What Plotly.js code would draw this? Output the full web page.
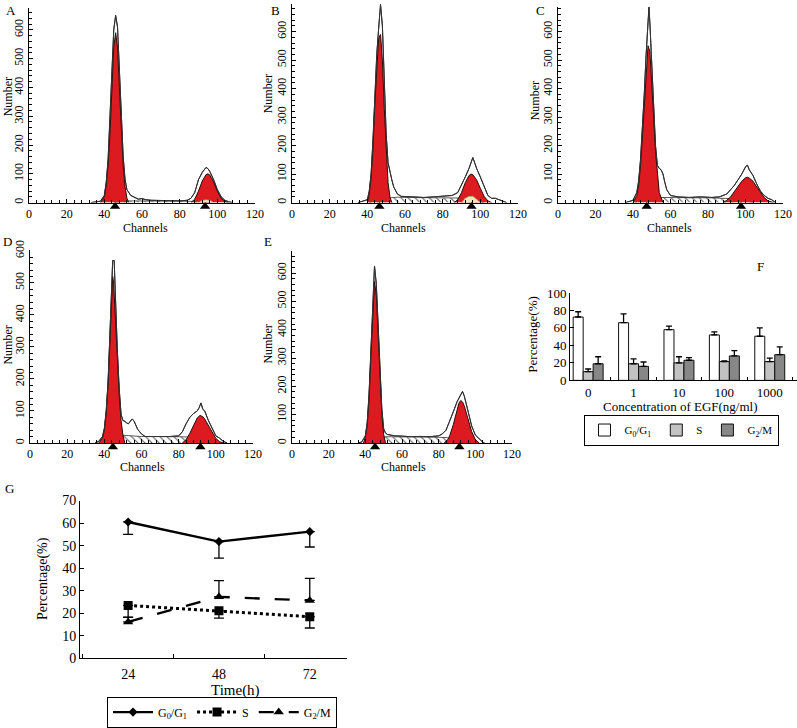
<!DOCTYPE html>
<html><head><meta charset="utf-8">
<script src="https://cdn.plot.ly/plotly-3.0.1.min.js"></script>
<style>html,body{margin:0;padding:0;background:#fff}#chart{width:797px;height:728px}</style>
</head><body><div id="chart"></div>
<script>
// ---------- Panel A (flow histogram) ----------
const rawA_x = [33,36,38,40,41,42,43,44,45,46,47,48,49,50,51,52,54,56,58,60,62,65,70,75,80,84,86,88,90,92,94,95,96,98,100,102,104,106,108];
const rawA_y = [0,3,5,25,70,150,280,450,600,650,610,470,300,160,80,45,25,18,12,14,10,8,7,6,6,8,15,35,80,105,122,118,108,80,45,20,8,3,0];
const g1A_x = [38,40,41,42,43,44,45,46,47,48,49,50,51,52,53];
const g1A_y = [0,20,60,130,240,390,540,590,540,400,250,130,55,15,0];
const g2A_x = [86,88,90,92,94,95,96,98,100,102,104,106];
const g2A_y = [0,12,40,75,97,100,96,72,40,15,4,0];
const sA_x = [46,50,55,60,70,80,88,92,96];
const sA_y = [0,5,6,6,6,6,6,4,0];
const yelA_x = [90,92,94,96,98];
const yelA_y = [0,8,10,8,0];
const triA = [45.7,93.5];
// ---------- Panel B ----------
const rawB_x = [35,37,40,41,42,43,44,45,46,47,48,49,50,51,52,53,54,56,58,62,66,70,75,80,85,88,90,92,94,95,96,97,98,100,102,104,106,108,110,112,114];
const rawB_y = [0,4,10,40,100,220,380,520,610,695,620,440,240,140,105,80,55,30,22,20,20,18,20,22,25,35,60,90,120,140,158,140,120,90,55,25,15,15,10,5,0];
const g1B_x = [40,41,42,43,44,45,46,47,48,49,50,51,52,53];
const g1B_y = [0,30,85,190,350,490,575,590,500,330,170,70,20,0];
const g2B_x = [86,88,90,92,94,95,96,98,100,102,104,106];
const g2B_y = [0,10,35,70,95,100,98,80,50,22,6,0];
const sB_x = [41,44,48,52,56,60,70,80,86,90,94,98,102];
const sB_y = [0,8,15,18,19,18,17,18,18,16,12,6,0];
const yelB_x = [90,92,94,96,98,100];
const yelB_y = [0,15,22,22,12,0];
const triB = [46.4,95.3];
// ---------- Panel C ----------
const rawC_x = [36,38,40,42,43,44,45,46,47,48,48.5,49,50,51,52,53,54,55,56,57,58,60,64,70,76,82,86,88,90,92,94,96,98,100,101,102,104,106,108,110,112,114,116];
const rawC_y = [0,3,8,35,75,150,250,380,520,660,685,630,480,330,200,130,120,115,100,70,45,25,20,18,20,18,20,25,30,45,60,80,100,125,132,115,95,65,40,25,15,10,0];
const g1C_x = [40,42,43,44,45,46,47,48,49,50,51,52,53,54,56];
const g1C_y = [0,25,60,130,230,350,470,550,530,430,300,180,90,35,0];
const g2C_x = [88,90,92,94,96,98,100,101,102,104,106,108,110,112,115];
const g2C_y = [0,8,20,38,58,75,87,89,86,75,55,35,18,6,0];
const sC_x = [41,44,48,52,56,60,70,80,88,92,96,100,104];
const sC_y = [0,8,15,18,18,17,17,17,16,14,10,5,0];
const triC = [47.3,97.6];
// ---------- Panel D ----------
const rawD_x = [35,37,39,40,41,42,43,44,44.5,45.3,46,47,48,49,50,51,52,53,54,55,56,57,58,60,62,66,70,75,80,82,84,86,88,90,91,92,93,94,96,98,100,102,103,104,106];
const rawD_y = [0,5,20,45,100,190,340,500,570,570,430,290,170,90,70,68,62,60,68,75,68,55,42,28,20,20,19,20,22,35,60,80,92,100,110,125,105,100,70,45,22,15,10,5,0];
const g1D_x = [37,39,40,41,42,43,44,44.5,45,46,47,48,49,50,51];
const g1D_y = [0,15,40,90,180,320,470,520,500,400,270,150,70,25,0];
const g2D_x = [82,84,86,88,90,91.5,93,94,96,98,100,102,104];
const g2D_y = [0,10,30,55,78,86,82,75,55,32,14,4,0];
const sD_x = [38,42,46,50,54,60,70,80,84,88,92,96,100];
const sD_y = [0,12,22,24,22,20,20,20,19,16,12,6,0];
const triD = [44.6,91.7];
// ---------- Panel E ----------
const rawE_x = [36,38,40,41,42,43,44,45,46,47,48,49,50,51,52,54,56,60,65,70,75,80,82,84,86,88,90,92,93,94,96,98,100,102,104,105];
const rawE_y = [0,3,25,70,170,330,520,625,560,410,250,120,50,35,30,28,25,24,22,23,22,25,32,45,75,110,145,172,182,165,115,60,28,15,3,0];
const g1E_x = [39,40,41,42,43,44,45,46,47,48,49,50,51];
const g1E_y = [0,20,60,150,300,470,570,520,380,220,100,30,0];
const g2E_x = [83,85,86,88,90,91,92,93,94,96,98,100,102];
const g2E_y = [0,12,25,65,115,140,150,145,130,85,40,12,0];
const sE_x = [39,43,47,51,55,60,70,80,84,88,92,96,100];
const sE_y = [0,10,18,22,22,21,20,20,19,16,12,6,0];
const triE = [45.3,91.3];
// ---------- Panel F (bars) ----------
const catsF = ['0','1','10','100','1000'];
const g01F = [72.5,66,58,52,50.5];
const g01F_err = [6,10,4,3.5,9.5];
const sF = [10,19,20,21.5,21.5];
const sF_err = [3,5.5,7,0.8,4];
const g2mF = [19,16,23,28,29.4];
const g2mF_err = [8,5,3,6,9];
// ---------- Panel G (lines) ----------
const catsG = ['24','48','72'];
const g01G = [60.5,51.8,56.2];
const g01G_err = [5.5,7.3,6.8];
const sG = [23.5,21.1,18.5];
const sG_err = [5.2,3.2,5.0];
const g2mG = [16.2,27.3,25.7];
const g2mG_err = [2,7.2,9.8];

const W = 797, H = 728;
const FONT = '"Liberation Serif","Times New Roman",Times,serif';
const RED = '#dc1a1f';
const xd = (a,b) => [a/W, b/W];
const yd = (bot,top) => [1-bot/H, 1-top/H];

const traces = [];
const layout = {
  width: W, height: H, margin:{l:0,r:0,t:0,b:0},
  paper_bgcolor:'#fff', plot_bgcolor:'rgba(0,0,0,0)',
  showlegend:true, barmode:'group', bargap:0.34, bargroupgap:0,
  font:{family:FONT, color:'#000'},
  annotations:[]
};

function ann(text, px, py, size, angle){
  layout.annotations.push({text:text, x:px/W, y:1-py/H, xref:'paper', yref:'paper',
    xanchor:'center', yanchor:'middle', showarrow:false, textangle:angle||0,
    font:{family:FONT, size:size, color:'#000'}});
}

function baseAxis(extra){
  return Object.assign({showline:true, linecolor:'#000', linewidth:1, ticks:'inside', ticklen:4,
    tickcolor:'#000', showgrid:false, zeroline:false, fixedrange:true,
    tickfont:{family:FONT, size:12, color:'#000'}}, extra);
}

function hist(n, d, xpx, ypx, ytop){
  const xs = n===1 ? 'x' : 'x'+n, ys = n===1 ? 'y' : 'y'+n;
  const common = {xaxis:xs, yaxis:ys, showlegend:false, hoverinfo:'skip', mode:'lines', cliponaxis:false};
  traces.push(Object.assign({x:d.raw[0], y:d.raw[1], fill:'tozeroy', fillcolor:'#fff',
    line:{color:'#222', width:1}}, common));
  traces.push(Object.assign({x:d.s[0], y:d.s[1], fill:'tozeroy', fillcolor:'#fff',
    fillpattern:{shape:'\\', fgcolor:'#555', bgcolor:'#fff', size:5, solidity:0.2},
    line:{color:'#333', width:0.8}}, common));
  traces.push(Object.assign({x:d.g1[0], y:d.g1[1], fill:'tozeroy', fillcolor:RED,
    line:{color:'#2a0808', width:1}}, common));
  traces.push(Object.assign({x:d.g2[0], y:d.g2[1], fill:'tozeroy', fillcolor:RED,
    line:{color:'#2a0808', width:1}}, common));
  if (d.yel) traces.push(Object.assign({x:d.yel[0], y:d.yel[1], fill:'tozeroy', fillcolor:'#efe6b4',
    line:{color:'#9a9a80', width:0.6}}, common));
  traces.push(Object.assign({x:d.raw[0], y:d.raw[1], line:{color:'#333', width:1}}, common));
  // peak markers sit on the baseline; the triangle is pushed just below the axis line
  traces.push({x:d.tri, y:d.tri.map(()=>0), xaxis:xs, yaxis:ys, mode:'markers',
    showlegend:false, hoverinfo:'skip', cliponaxis:false,
    marker:{symbol:'triangle-up', angle:0, standoff:4, size:9, color:'#000', line:{width:0}}});
  layout[n===1?'xaxis':'xaxis'+n] = baseAxis({domain:xd(xpx[0],xpx[1]), range:[0,120], anchor:ys,
    dtick:20, tick0:0, minor:{ticks:'inside', ticklen:3, dtick:4, tickcolor:'#000', showgrid:false}});
  layout[n===1?'yaxis':'yaxis'+n] = baseAxis({domain:yd(ypx[0],ypx[1]), range:[0,ytop], anchor:xs,
    dtick:100, tick0:0, tickangle:-90,
    minor:{ticks:'inside', ticklen:3, dtick:20, tickcolor:'#000', showgrid:false}});
}

hist(1, {raw:[rawA_x,rawA_y], s:[sA_x,sA_y], g1:[g1A_x,g1A_y], g2:[g2A_x,g2A_y], yel:[yelA_x,yelA_y], tri:triA}, [29,255], [204,8], 676);
hist(2, {raw:[rawB_x,rawB_y], s:[sB_x,sB_y], g1:[g1B_x,g1B_y], g2:[g2B_x,g2B_y], yel:[yelB_x,yelB_y], tri:triB}, [292,518], [204,4], 697);
hist(3, {raw:[rawC_x,rawC_y], s:[sC_x,sC_y], g1:[g1C_x,g1C_y], g2:[g2C_x,g2C_y], tri:triC}, [558,783], [204,7], 686);
hist(4, {raw:[rawD_x,rawD_y], s:[sD_x,sD_y], g1:[g1D_x,g1D_y], g2:[g2D_x,g2D_y], tri:triD}, [30,253], [446,252], 602);
hist(5, {raw:[rawE_x,rawE_y], s:[sE_x,sE_y], g1:[g1E_x,g1E_y], g2:[g2E_x,g2E_y], tri:triE}, [292,512], [446,253], 677);

// ---------- Panel F ----------
const zerosF = catsF.map(()=>0);
function barTrace(name, y, err, color){
  return {type:'bar', name:name, x:catsF, y:y, xaxis:'x6', yaxis:'y6', legend:'legend',
    marker:{color:color, line:{color:'#111', width:1}}, hoverinfo:'skip',
    error_y:{type:'data', symmetric:false, array:err, arrayminus:zerosF, color:'#000', thickness:1.3, width:3}};
}
traces.push(barTrace('G<sub>0</sub>/G<sub>1</sub>', g01F, g01F_err, '#ffffff'));
traces.push(barTrace('S', sF, sF_err, '#c2c2c2'));
traces.push(barTrace('G<sub>2</sub>/M', g2mF, g2mF_err, '#878787'));
layout.xaxis6 = baseAxis({domain:xd(570,797), type:'category', range:[-0.4,4.6], anchor:'y6',
  tickson:'boundaries', ticklen:3, tickfont:{family:FONT, size:13, color:'#000'}});
layout.yaxis6 = baseAxis({domain:yd(383,295), range:[0,100], dtick:20, anchor:'x6',
  tickfont:{family:FONT, size:13, color:'#000'}});

// ---------- Panel G ----------
const zerosG = catsG.map(()=>0);
traces.push({type:'scatter', mode:'lines+markers', name:'G<sub>0</sub>/G<sub>1</sub>', x:catsG, y:g01G,
  xaxis:'x7', yaxis:'y7', legend:'legend2', hoverinfo:'skip',
  line:{color:'#000', width:2.4}, marker:{symbol:'diamond', size:7, color:'#000'},
  error_y:{type:'data', symmetric:false, array:zerosG, arrayminus:g01G_err, color:'#000', thickness:1.3, width:5}});
traces.push({type:'scatter', mode:'lines+markers', name:'S', x:catsG, y:sG,
  xaxis:'x7', yaxis:'y7', legend:'legend2', hoverinfo:'skip',
  line:{color:'#000', width:3, dash:'dot'}, marker:{symbol:'square', size:9, color:'#000'},
  error_y:{type:'data', symmetric:false, array:zerosG, arrayminus:sG_err, color:'#000', thickness:1.3, width:5}});
traces.push({type:'scatter', mode:'lines+markers', name:'G<sub>2</sub>/M', x:catsG, y:g2mG,
  xaxis:'x7', yaxis:'y7', legend:'legend2', hoverinfo:'skip',
  line:{color:'#000', width:2.4, dash:'longdash'}, marker:{symbol:'triangle-up', size:9, color:'#000'},
  error_y:{type:'data', symmetric:false, array:g2mG_err, arrayminus:zerosG, color:'#000', thickness:1.3, width:5}});
layout.xaxis7 = baseAxis({domain:xd(80,347), type:'category', range:[-0.53,2.41], anchor:'y7',
  tickson:'boundaries', ticklen:4, ticklabelstandoff:3, tickfont:{family:FONT, size:14, color:'#000'}});
layout.yaxis7 = baseAxis({domain:yd(663,504), range:[0,70], dtick:10, anchor:'x7',
  tickfont:{family:FONT, size:14, color:'#000'}});

layout.legend = {x:681/W, y:1-433/H, xanchor:'center', yanchor:'middle', orientation:'h',
  bordercolor:'#000', borderwidth:1, bgcolor:'#fff', font:{family:FONT, size:11, color:'#000'},
  itemwidth:30, tracegroupgap:0, itemclick:false, itemdoubleclick:false};
layout.legend2 = {x:222/W, y:1-717/H, xanchor:'center', yanchor:'middle', orientation:'h',
  bordercolor:'#000', borderwidth:1, bgcolor:'#fff', font:{family:FONT, size:12, color:'#000'},
  itemwidth:40, tracegroupgap:0, itemclick:false, itemdoubleclick:false};

// ---------- text ----------
ann('A', 11, 11, 13); ann('B', 275, 11, 13); ann('C', 540, 11, 13);
ann('D', 8, 243, 13); ann('E', 268, 243, 13); ann('F', 760, 268, 13); ann('G', 9, 492, 13);
ann('Number', 8, 98, 12, -90); ann('Number', 268, 95, 12, -90); ann('Number', 535, 102, 12, -90);
ann('Number', 8, 348, 12, -90); ann('Number', 268, 347, 12, -90);
ann('Channels', 145, 230, 12); ann('Channels', 403, 230, 12); ann('Channels', 669, 230, 12);
ann('Channels', 142, 470, 12); ann('Channels', 403, 470, 12);
ann('Percentage(%)', 533, 337, 13, -90); ann('Concentration of EGF(ng/ml)', 680, 409, 13);
ann('Percentage(%)', 43, 583, 14, -90); ann('Time(h)', 235, 695, 15);

Plotly.newPlot('chart', traces, layout, {staticPlot:true, displayModeBar:false});
</script>
</body></html>
